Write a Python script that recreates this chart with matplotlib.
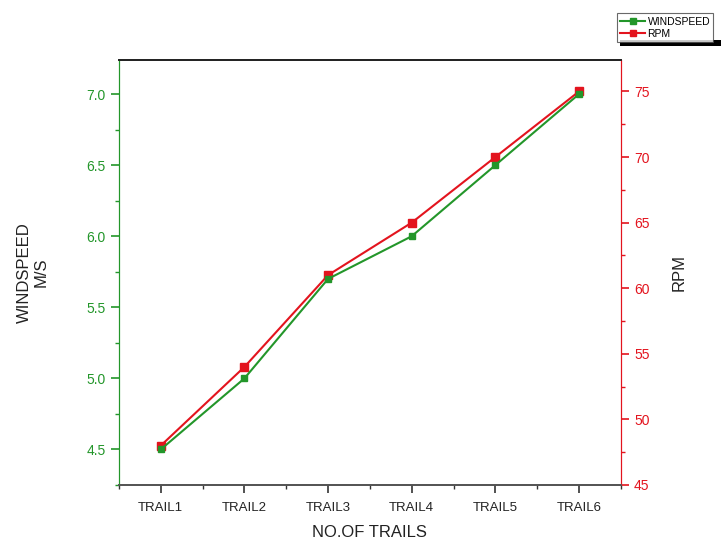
import matplotlib.pyplot as plt
from matplotlib.ticker import MultipleLocator
from matplotlib.lines import Line2D
from matplotlib.patches import Rectangle

plt.rcParams['font.family'] = ['Liberation Sans', 'DejaVu Sans']

trails = ['TRAIL1', 'TRAIL2', 'TRAIL3', 'TRAIL4', 'TRAIL5', 'TRAIL6']
windspeed = [4.5, 5.0, 5.7, 6.0, 6.5, 7.0]
rpm = [48, 54, 61, 65, 70, 75]

green = '#23962a'
red = '#e3141e'

fig = plt.figure(figsize=(7.21, 5.48), dpi=100)
ax = fig.add_axes([0.165, 0.115, 0.696, 0.7755])
ax2 = ax.twinx()

x = list(range(1, len(trails) + 1))
ax2.plot(x, rpm, color=red, marker='s', markersize=6, linewidth=1.5)
ax.plot(x, windspeed, color=green, marker='s', markersize=5, linewidth=1.5, zorder=5)
ax.set_zorder(ax2.get_zorder() + 1)
ax.patch.set_visible(False)

ax.set_xlim(0.5, 6.5)
ax.set_ylim(4.25, 7.24)
ax2.set_ylim(45, 77.4)

ax.set_xticks(x)
ax.set_xticklabels(trails, fontsize=9.5, color='#222222')
ax.set_xticks([i + 0.5 for i in range(0, 7)], minor=True)
ax.tick_params(axis='x', which='major', direction='out', length=6, width=1.2, color='#333333', pad=6)
ax.tick_params(axis='x', which='minor', direction='out', length=3, width=1, color='#333333')

ax.yaxis.set_major_locator(MultipleLocator(0.5))
ax.yaxis.set_minor_locator(MultipleLocator(0.25))
ax.tick_params(axis='y', which='major', direction='out', length=6, width=1.2, color=green, labelcolor=green, labelsize=10)
ax.tick_params(axis='y', which='minor', direction='out', length=3, width=1, color=green)
ax.yaxis.set_major_formatter(plt.FormatStrFormatter('%.1f'))

ax2.yaxis.set_major_locator(MultipleLocator(5))
ax2.yaxis.set_minor_locator(MultipleLocator(2.5))
ax2.tick_params(axis='y', which='major', direction='out', length=6, width=1.2, color=red, labelcolor=red, labelsize=10)
ax2.tick_params(axis='y', which='minor', direction='out', length=3, width=1, color=red)

for a in (ax, ax2):
    a.spines['left'].set_color(green)
    a.spines['right'].set_color(red)
    a.spines['top'].set_color('#222222')
    a.spines['bottom'].set_color('#555555')
    a.spines['bottom'].set_linewidth(1.3)
    a.spines['top'].set_linewidth(1.3)

ax.set_xlabel('NO.OF TRAILS', fontsize=12, color='#222222', labelpad=8)
ax.set_ylabel('WINDSPEED\nM/S', fontsize=12, color='#222222', labelpad=27)
ax2.set_ylabel('RPM', fontsize=12, color='#222222', labelpad=16)

handles = [
    Line2D([], [], color=green, marker='s', markersize=5, linewidth=1.5),
    Line2D([], [], color=red, marker='s', markersize=5, linewidth=1.5),
]
leg = fig.legend(handles, ['WINDSPEED', 'RPM'], loc='upper left', bbox_to_anchor=(0.849, 0.985),
                 fontsize=7.5, frameon=True, fancybox=False, edgecolor='#444444',
                 handlelength=2.4, handletextpad=0.2, borderpad=0.3, labelspacing=0.2)
leg.get_frame().set_linewidth(0.8)

fig.patches.append(Rectangle((0.86, 0.916), 0.15, 0.011, transform=fig.transFigure,
                             facecolor='black', edgecolor='none'))

fig.savefig('out.png', dpi=100)
